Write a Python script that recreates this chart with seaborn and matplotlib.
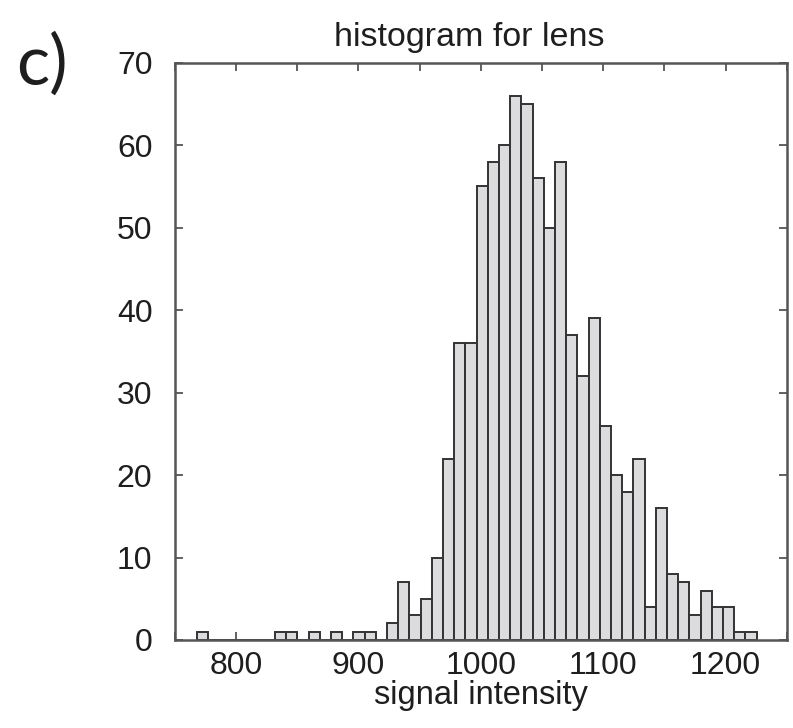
import numpy as np
import pandas as pd
import matplotlib
matplotlib.use("Agg")
import matplotlib.pyplot as plt
from matplotlib.ticker import MultipleLocator
import seaborn as sns

# ---- data ----
bin_low = 768.0
bin_high = 1225.3
n_bins = 50
counts = [1, 0, 0, 0, 0, 0, 0, 1, 1, 0,
          1, 0, 1, 0, 1, 1, 0, 2, 7, 3,
          5, 10, 22, 36, 36, 55, 58, 60, 66, 65,
          56, 50, 58, 37, 32, 39, 26, 20, 18, 22,
          4, 16, 8, 7, 3, 6, 4, 4, 1, 1]
x_ticks = [800, 900, 1000, 1100, 1200]
y_ticks = [0, 10, 20, 30, 40, 50, 60, 70]
title = "histogram for lens"
xlabel = "signal intensity"
panel_label = "c)"

edges = np.linspace(bin_low, bin_high, n_bins + 1)
centers = (edges[:-1] + edges[1:]) / 2
df = pd.DataFrame({"intensity": centers, "count": counts})

sns.set_style("ticks")
plt.rcParams["font.family"] = ["Liberation Sans", "DejaVu Sans"]

fig = plt.figure(figsize=(7.93, 7.28), dpi=100)
ax = fig.add_axes([0.2203, 0.1209, 0.7718, 0.793])

sns.histplot(data=df, x="intensity", weights="count", bins=n_bins,
             binrange=(bin_low, bin_high), ax=ax,
             color="#dcdcdf", edgecolor="#333333", linewidth=1.4, alpha=1.0)

ax.set_xlim(750, 1250)
ax.set_ylim(0, 70)
ax.set_xticks(x_ticks)
ax.set_yticks(y_ticks)
ax.xaxis.set_minor_locator(MultipleLocator(50))

for s in ax.spines.values():
    s.set_visible(True)
    s.set_color("#555555")
    s.set_linewidth(1.8)

ax.tick_params(axis="both", which="both", direction="in", length=6, width=1.3,
               color="#555555", top=True, right=True, labelsize=23,
               labelcolor="#1e1e1e")
ax.tick_params(axis="x", which="major", pad=8)
ax.tick_params(axis="y", which="major", pad=16)

ax.set_xlabel(xlabel, fontsize=23.5, color="#1e1e1e", labelpad=-1)
ax.set_ylabel("")
ax.set_title(title, fontsize=24.5, color="#1e1e1e", pad=12, x=0.481)

fig.text(0.053, 0.912, panel_label, fontsize=50, family=["Lato", "DejaVu Sans"],
         ha="center", va="center", color="#1e1e1e")

fig.savefig("out.png", dpi=100, facecolor="white")
